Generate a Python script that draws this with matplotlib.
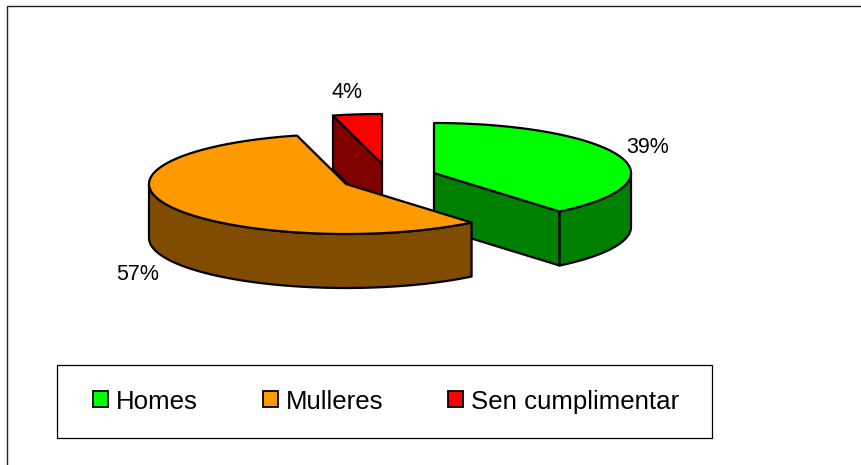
import numpy as np
import matplotlib
matplotlib.use('Agg')
import matplotlib.pyplot as plt
from matplotlib.patches import Polygon, Rectangle, Patch

# Chart data
labels = ['Homes', 'Mulleres', 'Sen cumplimentar']
values = [39, 57, 4]
top_colors = ['#00FF00', '#FF9900', '#FF0000']
side_colors = ['#008000', '#804D00', '#800000']

# Layout in pixels
centers = [(434, 173), (346, 184), (382, 164)]
label_pos = [(648, 147), (138, 274), (347, 93)]
rx = 197  # ellipse half width
ry = 50  # ellipse half height
depth = 54  # height of the pie
lw = 1.6

plt.rcParams['font.family'] = ['Liberation Sans', 'DejaVu Sans']

fig = plt.figure(figsize=(8.61, 4.65), dpi=100)
ax = fig.add_axes([0, 0, 1, 1])
ax.set_xlim(0, 861)
ax.set_ylim(465, 0)
ax.axis('off')


def arc(center, a, b, dy=0):
    # angles in degrees, clockwise from 12 o'clock
    t = np.radians(np.linspace(a, b, 100))
    return np.column_stack((center[0] + rx * np.sin(t), center[1] - ry * np.cos(t) + dy))


def draw_poly(points, color, zorder):
    ax.add_patch(Polygon(points, closed=True, facecolor=color, edgecolor='black',
                         linewidth=lw, joinstyle='round', zorder=zorder))


def draw_radial_face(center, angle, color, zorder):
    edge = arc(center, angle, angle)[0]
    cx, cy = center
    draw_poly([(cx, cy), edge, (edge[0], edge[1] + depth), (cx, cy + depth)], color, zorder)


def draw_slice(i, a, b, zorder):
    center = centers[i]
    # cut faces, only the ones turned towards the viewer
    if np.sin(np.radians(a)) < -1e-9:
        draw_radial_face(center, a, side_colors[i], zorder)
    if np.sin(np.radians(b)) > 1e-9:
        draw_radial_face(center, b, side_colors[i], zorder)
    # outer wall, front half of the ellipse only
    lo, hi = max(a, 90), min(b, 270)
    if lo < hi:
        wall = np.vstack((arc(center, lo, hi), arc(center, hi, lo, depth)))
        draw_poly(wall, side_colors[i], zorder)
    # top face
    draw_poly(np.vstack(([center], arc(center, a, b))), top_colors[i], zorder)


# Angles from the values
stops = np.cumsum([0] + values) / sum(values) * 360

# red goes behind, orange covers the front of green
for i, z in zip([2, 0, 1], [2, 3, 4]):
    draw_slice(i, stops[i], stops[i + 1], z)

for v, pos in zip(values, label_pos):
    ax.text(pos[0], pos[1], f'{v}%', fontsize=15.5, color='black', ha='center', va='center', zorder=6)

# Outer frame, only top and left are inside the picture
ax.plot([7, 7, 861], [465, 6.5, 6.5], color='#222222', lw=1.0, solid_joinstyle='miter', zorder=1)

# Legend box
ax.add_patch(Rectangle((57, 364.5), 655, 73, facecolor='white', edgecolor='black', linewidth=0.9, zorder=5))
handles = [Patch(facecolor=c, edgecolor='black', linewidth=1.3) for c in top_colors]
ax.legend(handles, labels, loc='center left', bbox_to_anchor=(93, 401.5), bbox_transform=ax.transData,
          ncol=3, frameon=False, fontsize=18.6, borderpad=0, borderaxespad=0,
          handlelength=0.58, handleheight=0.58, handletextpad=0.3, columnspacing=2.52).set_zorder(7)

fig.savefig('out.png', dpi=100)
